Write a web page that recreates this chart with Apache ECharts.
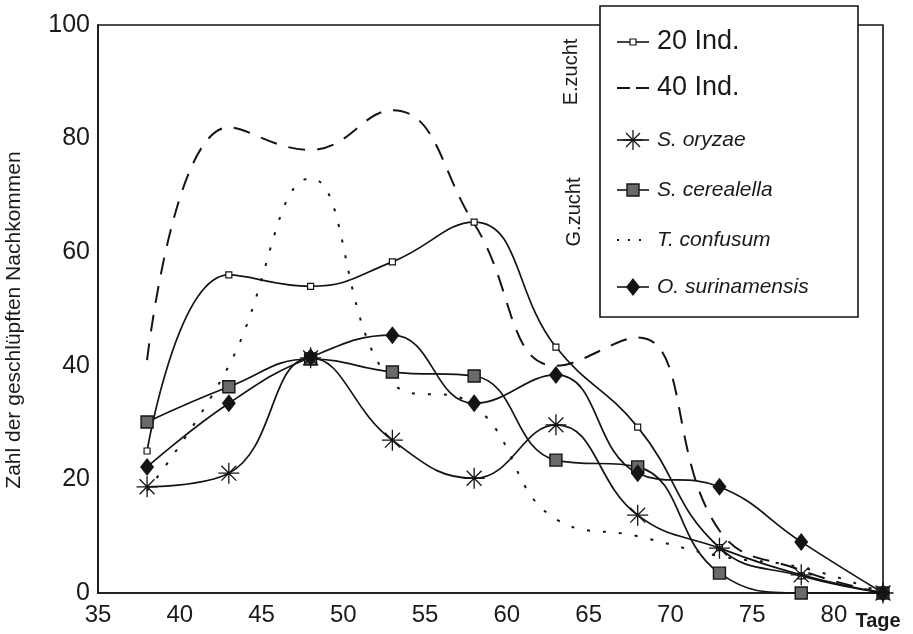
<!DOCTYPE html>
<html>
<head>
<meta charset="utf-8">
<script src="https://cdn.jsdelivr.net/npm/echarts@6/dist/echarts.min.js"></script>
<style>
html,body{margin:0;padding:0;background:#fff;}
#chart{width:913px;height:634px;}
</style>
</head>
<body>
<div id="chart"></div>
<script>
// ---- data ----
const days = [38, 43, 48, 53, 58, 63, 68, 73, 78, 83];
const ind20 = [25, 56, 54, 58.3, 65.3, 43.3, 29.2, 8, 3, 0];
const ind40 = [41, 82, 78, 85, 65, 40, 45, 11, 4, 0];
const sOryzae = [18.7, 21.1, 41.4, 26.9, 20.2, 29.6, 13.7, 7.9, 3.2, 0];
const sCerealella = [30.1, 36.3, 41.2, 38.9, 38.2, 23.4, 22.2, 3.5, 0, 0];
const tConfusum = [18, 40, 73, 37, 33, 13, 10, 6.5, 4.5, 0];
const oSurinamensis = [22.2, 33.4, 41.5, 45.4, 33.4, 38.4, 21.1, 18.7, 9, 0];
const seriesNames = ['20 Ind.', '40 Ind.', 'S. oryzae', 'S. cerealella', 'T. confusum', 'O. surinamensis'];
const xTicks = [35, 40, 45, 50, 55, 60, 65, 70, 75, 80];
const yTicks = [0, 20, 40, 60, 80, 100];
const xUnit = 'Tage';
const yTitle = 'Zahl der geschlüpften Nachkommen';
const groupLabels = ['E.zucht', 'G.zucht'];

const pair = arr => days.map((d, i) => [d, arr[i]]);
const INK = '#141414';
const FONT = '"Liberation Sans", Arial, sans-serif';
const starPath = 'path://M10 0L10 20M0 10L20 10M2.9 2.9L17.1 17.1M2.9 17.1L17.1 2.9';

const chart = echarts.init(document.getElementById('chart'), null, {renderer: 'canvas'});

function lineSeries(name, data, lineStyle, symbol, symbolSize, itemStyle, z) {
  return {
    name: name, type: 'line', data: pair(data), smooth: 0.45,
    symbol: symbol, symbolSize: symbolSize, showSymbol: symbol !== 'none',
    lineStyle: Object.assign({color: INK, width: 1.7}, lineStyle),
    itemStyle: itemStyle || {color: INK},
    z: z || 2, animation: false, emphasis: {disabled: true}
  };
}

// legend (drawn as graphic)
const legX = 600, legY = 6, legW = 258, legH = 311;
const rowY = [42, 88, 140, 190, 240, 287];
const graphics = [];
graphics.push({type: 'rect', shape: {x: legX, y: legY, width: legW, height: legH},
  style: {fill: '#fff', stroke: INK, lineWidth: 1.6}, z: 10});
rowY.forEach((y, i) => {
  const dash = i === 1 ? [13, 6] : (i === 4 ? [2, 9] : null);
  graphics.push({type: 'line', shape: {x1: 617, y1: y, x2: 649, y2: y},
    style: {stroke: INK, lineWidth: i === 1 || i === 4 ? 1.8 : 1.6, lineDash: dash}, z: 11});
  const isSpecies = i >= 2;
  graphics.push({type: 'text', x: 657, y: y, z: 11, style: {
    text: seriesNames[i], fill: '#1a1a1a', font: (isSpecies ? 'italic 21px ' : '27px ') + FONT,
    verticalAlign: 'middle', align: 'left'}});
});
// legend markers
graphics.push({type: 'rect', shape: {x: 630, y: rowY[0] - 3, width: 6, height: 6},
  style: {fill: '#fff', stroke: INK, lineWidth: 1.2}, z: 12});
[[633, 130, 633, 150], [623, 140, 643, 140], [626, 133, 640, 147], [626, 147, 640, 133]].forEach(s => {
  graphics.push({type: 'line', z: 12, shape: {x1: s[0], y1: s[1], x2: s[2], y2: s[3]},
    style: {stroke: INK, lineWidth: 1.3}});
});
graphics.push({type: 'rect', shape: {x: 627, y: rowY[3] - 6, width: 12, height: 12},
  style: {fill: '#6a6a6a', stroke: INK, lineWidth: 1.4}, z: 12});
graphics.push({type: 'polygon', shape: {points: [[633, rowY[5] - 9], [640, rowY[5]], [633, rowY[5] + 9], [626, rowY[5]]]},
  style: {fill: INK}, z: 12});
// group labels
graphics.push({type: 'text', x: 571, y: 72, rotation: Math.PI / 2, z: 11,
  style: {text: groupLabels[0], font: '20px ' + FONT, fill: '#1a1a1a', align: 'center', verticalAlign: 'middle'}});
graphics.push({type: 'text', x: 574, y: 212, rotation: Math.PI / 2, z: 11,
  style: {text: groupLabels[1], font: '20px ' + FONT, fill: '#1a1a1a', align: 'center', verticalAlign: 'middle'}});
// axis titles
graphics.push({type: 'text', x: 14, y: 320, rotation: Math.PI / 2, z: 11,
  style: {text: yTitle, font: '21px ' + FONT, fill: '#1a1a1a', align: 'center', verticalAlign: 'middle'}});
graphics.push({type: 'text', x: 878, y: 621, z: 11,
  style: {text: xUnit, font: 'bold 20px ' + FONT, fill: '#1a1a1a', align: 'center', verticalAlign: 'middle'}});

const option = {
  backgroundColor: '#fff',
  animation: false,
  grid: {left: 98, right: 30, top: 25, bottom: 41, show: true, borderColor: INK, borderWidth: 1.6, backgroundColor: 'transparent'},
  xAxis: {
    type: 'value', min: 35, max: 83, interval: 5,
    axisLine: {show: true, onZero: false, lineStyle: {color: INK, width: 1.6}},
    axisTick: {show: false}, splitLine: {show: false},
    axisLabel: {color: '#1a1a1a', fontFamily: FONT, fontSize: 24, margin: 10,
      formatter: v => xTicks.indexOf(v) >= 0 ? String(v) : ''}
  },
  yAxis: {
    type: 'value', min: 0, max: 100, interval: 20,
    axisLine: {show: true, lineStyle: {color: INK, width: 1.6}},
    axisTick: {show: false}, splitLine: {show: false},
    axisLabel: {color: '#1a1a1a', fontFamily: FONT, fontSize: 25, margin: 8,
      formatter: v => yTicks.indexOf(v) >= 0 ? String(v) : ''}
  },
  graphic: graphics,
  series: [
    lineSeries(seriesNames[0], ind20, {}, 'rect', 6, {color: '#fff', borderColor: INK, borderWidth: 1.2}, 4),
    lineSeries(seriesNames[1], ind40, {type: [17, 12], width: 2}, 'none', 0, null, 2),
    lineSeries(seriesNames[2], sOryzae, {}, starPath, 21, {color: 'transparent', borderColor: INK, borderWidth: 1.3}, 5),
    lineSeries(seriesNames[3], sCerealella, {}, 'rect', 12, {color: '#6a6a6a', borderColor: INK, borderWidth: 1.4}, 4),
    lineSeries(seriesNames[4], tConfusum, {type: [3, 13], width: 2}, 'none', 0, null, 2),
    lineSeries(seriesNames[5], oSurinamensis, {}, 'diamond', [14, 18], {color: INK}, 4)
  ]
};
chart.setOption(option);
</script>
</body>
</html>
